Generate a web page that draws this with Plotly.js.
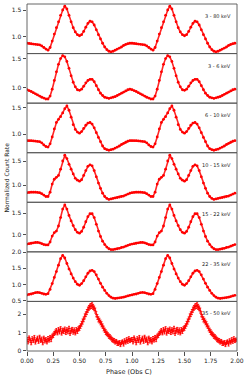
<!DOCTYPE html>
<html><head><meta charset="utf-8">
<script src="https://cdn.plot.ly/plotly-3.0.1.min.js"></script>
<style>html,body{margin:0;padding:0;background:#fff;}#chart{width:248px;height:380px;}</style>
</head><body><div id="chart"></div>
<script>
const phaseBins = [0.00,0.02,0.04,0.06,0.08,0.10,0.12,0.14,0.16,0.18,0.20,0.22,0.24,0.26,0.28,0.30,0.32,0.34,0.36,0.38,0.40,0.42,0.44,0.46,0.48,0.50,0.52,0.54,0.56,0.58,0.60,0.62,0.64,0.66,0.68,0.70,0.72,0.74,0.76,0.78,0.80,0.82,0.84,0.86,0.88,0.90,0.92,0.94,0.96,0.98];
const phaseFine = [0.00,0.01,0.02,0.03,0.04,0.05,0.06,0.07,0.08,0.09,0.10,0.11,0.12,0.13,0.14,0.15,0.16,0.17,0.18,0.19,0.20,0.21,0.22,0.23,0.24,0.25,0.26,0.27,0.28,0.29,0.30,0.31,0.32,0.33,0.34,0.35,0.36,0.37,0.38,0.39,0.40,0.41,0.42,0.43,0.44,0.45,0.46,0.47,0.48,0.49,0.50,0.51,0.52,0.53,0.54,0.55,0.56,0.57,0.58,0.59,0.60,0.61,0.62,0.63,0.64,0.65,0.66,0.67,0.68,0.69,0.70,0.71,0.72,0.73,0.74,0.75,0.76,0.77,0.78,0.79,0.80,0.81,0.82,0.83,0.84,0.85,0.86,0.87,0.88,0.89,0.90,0.91,0.92,0.93,0.94,0.95,0.96,0.97,0.98,0.99];
const bandLabels = ['3 - 80 keV','3 - 6 keV','6 - 10 keV','10 - 15 keV','15 - 22 keV','22 - 35 keV','35 - 50 keV'];
const rate_3_80 = [0.88,0.875,0.87,0.865,0.86,0.855,0.85,0.83,0.80,0.77,0.75,0.80,0.92,1.05,1.17,1.28,1.40,1.50,1.57,1.52,1.40,1.28,1.17,1.09,1.04,1.02,1.04,1.10,1.18,1.25,1.29,1.28,1.22,1.13,1.04,0.96,0.88,0.81,0.76,0.73,0.72,0.73,0.75,0.77,0.79,0.81,0.84,0.86,0.87,0.88];
const rate_3_6 = [0.96,0.945,0.93,0.91,0.89,0.87,0.85,0.83,0.815,0.80,0.80,0.85,0.97,1.12,1.27,1.40,1.50,1.55,1.53,1.45,1.33,1.20,1.09,1.01,0.96,0.95,0.97,1.02,1.08,1.12,1.14,1.14,1.10,1.03,0.96,0.90,0.86,0.83,0.82,0.81,0.82,0.83,0.84,0.86,0.88,0.90,0.92,0.94,0.96,0.97];
const rate_6_10 = [0.88,0.88,0.88,0.875,0.87,0.865,0.86,0.84,0.80,0.77,0.76,0.82,0.95,1.10,1.22,1.28,1.33,1.40,1.48,1.53,1.45,1.32,1.18,1.09,1.04,1.02,1.05,1.11,1.17,1.21,1.22,1.19,1.12,1.03,0.94,0.86,0.78,0.73,0.71,0.70,0.71,0.72,0.74,0.76,0.78,0.81,0.83,0.85,0.87,0.88];
const rate_10_15 = [0.84,0.845,0.85,0.85,0.85,0.845,0.84,0.82,0.79,0.76,0.76,0.85,1.02,1.12,1.16,1.20,1.33,1.50,1.62,1.55,1.43,1.33,1.23,1.14,1.10,1.08,1.11,1.20,1.30,1.39,1.42,1.40,1.30,1.17,1.04,0.93,0.83,0.76,0.72,0.70,0.71,0.72,0.73,0.74,0.75,0.76,0.77,0.79,0.81,0.83];
const rate_15_22 = [0.77,0.78,0.79,0.80,0.81,0.81,0.80,0.78,0.76,0.75,0.75,0.82,0.96,1.04,1.08,1.20,1.40,1.60,1.70,1.60,1.45,1.32,1.21,1.11,1.05,1.03,1.07,1.17,1.30,1.42,1.49,1.49,1.40,1.24,1.08,0.95,0.84,0.76,0.70,0.66,0.64,0.64,0.65,0.66,0.67,0.69,0.70,0.72,0.74,0.76];
const rate_22_35 = [0.68,0.70,0.71,0.73,0.75,0.76,0.75,0.73,0.71,0.70,0.72,0.85,1.03,1.22,1.40,1.60,1.80,1.90,1.82,1.65,1.48,1.33,1.20,1.09,1.01,0.98,1.03,1.12,1.24,1.35,1.42,1.44,1.40,1.30,1.17,1.04,0.92,0.82,0.73,0.66,0.61,0.58,0.57,0.58,0.59,0.60,0.61,0.63,0.65,0.67];
const rate_35_50 = [0.62,0.50,0.71,0.58,0.45,0.66,0.55,0.72,0.48,0.60,0.68,0.52,0.75,0.57,0.63,0.44,0.70,0.55,0.61,0.49,0.66,0.58,0.73,0.62,0.80,0.85,0.95,1.02,1.10,0.98,1.15,1.05,1.20,0.97,1.12,1.08,1.18,1.00,1.14,1.06,1.22,0.96,1.10,1.16,1.03,1.12,0.98,1.15,1.08,1.20,1.25,1.35,1.48,1.60,1.72,1.88,2.00,2.12,2.25,2.35,2.42,2.45,2.48,2.40,2.32,2.20,2.00,1.85,1.72,1.65,1.55,1.45,1.35,1.22,1.12,1.02,0.95,0.88,0.80,0.76,0.70,0.62,0.58,0.55,0.48,0.52,0.42,0.40,0.46,0.35,0.44,0.50,0.38,0.55,0.47,0.60,0.52,0.65,0.56,0.60];
const err_35_50 = [0.11,0.12,0.10,0.11,0.12,0.11,0.10,0.12,0.11,0.10,0.12,0.11,0.10,0.11,0.12,0.11,0.10,0.12,0.11,0.11,0.12,0.10,0.11,0.12,0.11,0.12,0.11,0.12,0.12,0.11,0.12,0.13,0.12,0.11,0.12,0.13,0.12,0.11,0.12,0.13,0.12,0.11,0.13,0.12,0.12,0.13,0.11,0.12,0.13,0.12,0.13,0.12,0.13,0.14,0.13,0.14,0.13,0.14,0.14,0.13,0.14,0.14,0.15,0.14,0.13,0.14,0.14,0.13,0.14,0.13,0.13,0.14,0.12,0.13,0.12,0.13,0.12,0.11,0.12,0.12,0.11,0.12,0.11,0.12,0.11,0.10,0.12,0.11,0.10,0.12,0.11,0.10,0.12,0.11,0.10,0.12,0.11,0.12,0.11,0.10];

const bandRates = [rate_3_80, rate_3_6, rate_6_10, rate_10_15, rate_15_22, rate_22_35, rate_35_50];
const yRanges = [[0.687,1.612],[0.728,1.586],[0.654,1.583],[0.64,1.673],[0.586,1.762],[0.48,2.01],[-0.01,2.7]];

const nP = bandRates.length;
const plotH = 347;
const traces = [];
const layout = {
  width: 248, height: 380,
  margin: {l: 27, r: 11, t: 4, b: 29},
  paper_bgcolor: '#fff', plot_bgcolor: '#fff',
  showlegend: false,
  font: {family: 'DejaVu Sans', size: 6, color: '#222'},
  shapes: [], annotations: []
};
layout.xaxis = {
  range: [0, 2], anchor: 'y7', dtick: 0.25, tick0: 0, tickformat: '.2f',
  ticks: 'outside', ticklen: 3.5, tickwidth: 0.8, tickcolor: '#222',
  showgrid: false, zeroline: false, showline: false,
  tickfont: {size: 6, family: 'DejaVu Sans', color: '#222'}
};
for (let i = 0; i < nP; i++) {
  const top = 1 - i / nP, bot = 1 - (i + 1) / nP;
  const key = i === 0 ? 'yaxis' : 'yaxis' + (i + 1);
  const yref = i === 0 ? 'y' : 'y' + (i + 1);
  const last = i === nP - 1;
  layout[key] = {
    domain: [bot, top], range: yRanges[i], anchor: 'x',
    dtick: last ? 1 : 0.5, tick0: 0,
    tickformat: last ? '.0f' : '.1f',
    ticks: 'outside', ticklen: 3.5, tickwidth: 0.8, tickcolor: '#222',
    showgrid: false, zeroline: false, showline: false,
    tickfont: {size: 6, family: 'DejaVu Sans', color: '#222'}
  };
  const ph = last ? phaseFine : phaseBins;
  const xTwo = ph.concat(ph.map(p => p + 1));
  const yTwo = bandRates[i].concat(bandRates[i]);
  const tr = {
    x: xTwo, y: yTwo, xaxis: 'x', yaxis: yref, type: 'scatter',
    mode: last ? 'markers' : 'lines+markers',
    line: {color: 'rgba(255,0,0,0.85)', width: 1.6},
    marker: {color: '#ff0000', size: 2.8, line: {width: 0}},
    hoverinfo: 'skip'
  };
  if (last) {
    tr.marker.size = 2.2;
    tr.error_y = {type: 'data', array: err_35_50.concat(err_35_50), visible: true, color: '#ff0000', thickness: 0.9, width: 1};
  }
  traces.push(tr);
  layout.shapes.push({type: 'rect', xref: 'paper', yref: 'paper', x0: 0, x1: 1, y0: bot, y1: top,
    line: {color: '#555', width: 0.9}, fillcolor: 'rgba(0,0,0,0)', layer: 'above'});
  layout.annotations.push({text: bandLabels[i], xref: 'paper', yref: 'paper', x: 0.981, xanchor: 'right',
    y: top - 12 / plotH, yanchor: 'middle', showarrow: false, font: {size: 5, family: 'DejaVu Sans', color: '#222'}});
}
layout.annotations.push({text: 'Normalized Count Rate', xref: 'paper', yref: 'paper', x: -0.1, xanchor: 'center',
  y: 0.5, yanchor: 'middle', textangle: -90, showarrow: false, font: {size: 6, family: 'DejaVu Sans', color: '#222'}});
layout.annotations.push({text: 'Phase (Obs C)', xref: 'paper', yref: 'paper', x: 0.485, xanchor: 'center',
  y: -0.0605, yanchor: 'middle', showarrow: false, font: {size: 6.5, family: 'DejaVu Sans', color: '#222'}});

Plotly.newPlot('chart', traces, layout, {displayModeBar: false, staticPlot: true});
</script></body></html>
